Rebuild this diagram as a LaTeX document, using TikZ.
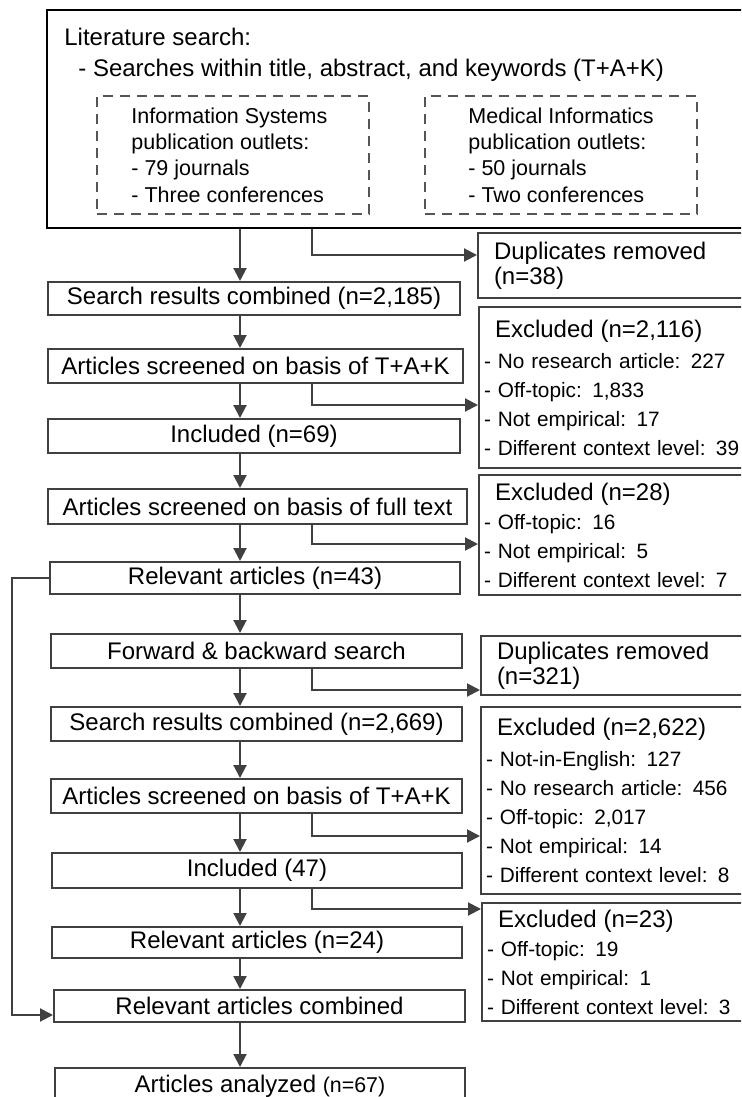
\documentclass[tikz,border=0pt]{standalone}
\usepackage{fontspec}
\setmainfont{Liberation Sans}
\usetikzlibrary{arrows.meta, fit, calc}
\definecolor{linegray}{HTML}{404040}
\definecolor{dashgray}{HTML}{555555}
\newcommand{\sidehead}[1]{{\fontsize{12}{14}\selectfont\hspace*{5.5pt}#1}}

\begin{document}
\begin{tikzpicture}[x=0.5pt, y=-0.5pt,
            box/.style = {draw=linegray, line width=1pt, inner sep=0pt, anchor=north west,
                minimum width=205.5pt, minimum height=17pt, font=\fontsize{12}{14}\selectfont},
            sidebox/.style = {box, minimum width=0pt, text width=150pt, inner xsep=2.5pt, align=left,
                font=\fontsize{10.4}{14.5}\selectfont},
            outlet/.style = {draw=dashgray, line width=0.75pt, dash pattern=on 5pt off 3.5pt, inner sep=0pt},
            smalltxt/.style = {inner sep=0pt, align=left, font=\fontsize{10.75}{13.2}\selectfont},
            arr/.style = {draw=linegray, line width=1pt, -{Triangle[length=6.5pt, width=6.5pt]}}]
            \useasboundingbox (0,0) rectangle (741,1097);
            \clip (0,0) rectangle (741,1097);
            \fill[white] (0,0) rectangle (741,1097);
            \coordinate (spine) at (240,0);
            \coordinate (br) at (312,0);
            \coordinate (loop) at (12,0);
            \node[draw=black, line width=1.3pt, inner sep=0pt, fit={(47,10) (790,228)}] (lit) {};
            \node[anchor=base west, inner sep=0pt, font=\fontsize{12}{14}\selectfont] (littitle) at (64,46) {Literature search:};
            \node[anchor=base west, inner sep=0pt, font=\fontsize{12}{14}\selectfont] (litscope) at (78,77) {- Searches within title, abstract, and keywords (T+A+K)};
            \node[outlet, fit={(97,96) (369,214)}] (isbox) {};
            \node[smalltxt, anchor=west] (istext) at (131,155) {Information Systems\\publication outlets:\\- 79 journals\\- Three conferences};
            \node[outlet, fit={(425,96) (697,214)}] (mibox) {};
            \node[smalltxt, anchor=west] (mitext) at (468,155) {Medical Informatics\\publication outlets:\\- 50 journals\\- Two conferences};
            \node[box, minimum width=206pt, minimum height=16.5pt] (src1) at (47,281) {Search results combined (n=2,185)};
            \node[box, minimum width=207.5pt] (scr1) at (47,348) {Articles screened on basis of T+A+K};
            \node[box, minimum width=206pt] (inc1) at (47,418) {Included (n=69)};
            \node[box, minimum width=209.5pt, minimum height=17.5pt] (full) at (47,488) {Articles screened on basis of full text};
            \node[box, minimum width=205pt, minimum height=16pt] (rel1) at (49,561) {Relevant articles (n=43)};
            \node[box] (fwd) at (50,633) {Forward \& backward search};
            \node[box] (src2) at (50,706) {Search results combined (n=2,669)};
            \node[box] (scr2) at (50,778) {Articles screened on basis of T+A+K};
            \node[box, minimum width=205pt, minimum height=17.5pt] (inc2) at (51,852) {Included (47)};
            \node[box, minimum width=205pt, minimum height=15.5pt] (rel2) at (51,926) {Relevant articles (n=24)};
            \node[box, minimum height=16pt] (comb) at (53,989) {Relevant articles combined};
            \node[box, minimum width=205pt, minimum height=18.5pt] (ana) at (54,1067) {Articles analyzed {\fontsize{10.7}{14}\selectfont(n=67)}};
            \node[sidebox, minimum height=32.5pt] (dup1) at (477,232) {\sidehead{Duplicates removed}\\[-2pt]\sidehead{(n=38)}};
            \node[sidebox, minimum height=80.5pt] (exc1) at (478,306) {\sidehead{Excluded (n=2,116)}\\[1pt]- No research article: 227\\- Off-topic: 1,833\\- Not empirical: 17\\- Different context level: 39};
            \node[sidebox, minimum height=60pt] (exc2) at (478,474) {\sidehead{Excluded (n=28)}\\- Off-topic: 16\\- Not empirical: 5\\- Different context level: 7};
            \node[sidebox, minimum height=29.5pt] (dup2) at (480,635) {\sidehead{Duplicates removed}\\[-2pt]\sidehead{(n=321)}};
            \node[sidebox, minimum height=93.5pt] (exc3) at (480,706) {\sidehead{Excluded (n=2,622)}\\[1pt]- Not-in-English: 127\\- No research article: 456\\- Off-topic: 2,017\\- Not empirical: 14\\- Different context level: 8};
            \node[sidebox, minimum height=59pt] (exc4) at (481,902) {\sidehead{Excluded (n=23)}\\- Off-topic: 19\\- Not empirical: 1\\- Different context level: 3};
            \foreach \a/\b in {lit/src1, src1/scr1, scr1/inc1, inc1/full, full/rel1, rel1/fwd,
                    fwd/src2, src2/scr2, scr2/inc2, inc2/rel2, rel2/comb, comb/ana}
                \draw[arr] (\a.south -| spine) -- (\b.north -| spine);
            \draw[arr] (lit.south -| br) |- ([yshift=5.25pt]dup1.west);
            \draw[arr] (scr1.south -| br) |- ([yshift=-8.75pt]exc1.west);
            \draw[arr] (full.south -| br) |- ([yshift=-4.5pt]exc2.west);
            \draw[arr] (fwd.south -| br) |- ([yshift=-12.25pt]dup2.west);
            \draw[arr] (scr2.south -| br) |- ([yshift=-17.75pt]exc3.west);
            \draw[arr] (inc2.south -| br) |- ([yshift=26.5pt]exc4.west);
            \draw[arr] (rel1.west) -- (rel1.west -| loop) |- ([yshift=-4.5pt]comb.west);
        \end{tikzpicture}
\end{document}
